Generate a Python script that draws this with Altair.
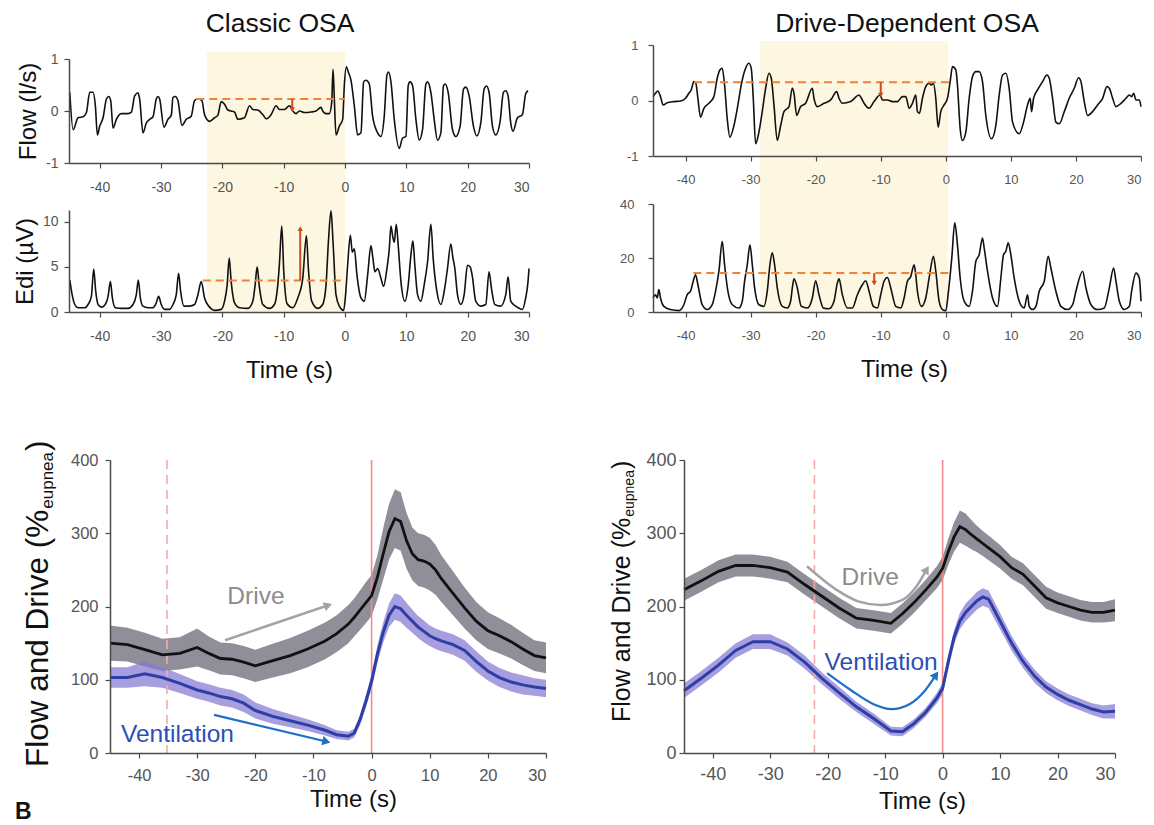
import math
import altair as alt
import pandas as pd

FONT = "Liberation Sans"
SHADE = "#fdf6e0"
ORANGE = "#f08238"
ARROW_RED = "#cc4a22"
PINK_SOLID = "#f28a8a"
PINK_DASH = "#f6a9a9"
DRIVE_BAND = "#8a8993"
VENT_BAND = "#8479d2"
VENT_LINE = "#2d3fa6"
DRIVE_TEXT = "#8c8c8c"
VENT_TEXT = "#2c4fb5"
DRIVE_ARROW = "#a3a3a3"
VENT_ARROW = "#1f6fc8"

XDOM = [-45, 30]
XTICKS = [-40, -30, -20, -10, 0, 10, 20, 30]

# ---------------- Classic OSA : raw traces ----------------
TL_FLOW_T = [-44.87, -44.33, -43.52, -42.70, -42.16, -41.62, -41.08, -40.70, -40.37, -39.99,
             -39.45, -38.90, -38.52, -38.20, -37.82, -37.28, -36.46, -35.38, -34.83, -34.29,
             -33.75, -33.48, -32.94, -32.39, -31.85, -31.31, -30.77, -30.49, -30.22, -29.52,
             -28.87, -28.32, -28.05, -27.67, -27.24, -26.59, -25.88, -25.07, -24.53, -23.98,
             -23.33, -22.90, -22.08, -21.27, -20.73, -20.18, -19.64, -19.10, -18.56, -18.01,
             -17.47, -16.39, -15.57, -15.03, -14.22, -13.40, -12.86, -12.05, -11.23, -10.69,
             -9.88, -9.06, -8.52, -7.98, -7.43, -6.62, -5.53, -4.72, -3.91, -3.64,
             -3.09, -2.55, -2.17, -1.95, -1.74, -1.47, -0.92, -0.38, -0.11, 0.22,
             0.54, 0.98, 1.52, 2.06, 2.60, 3.04, 3.42, 3.96, 4.50, 5.32,
             5.86, 6.40, 6.84, 7.11, 7.49, 8.03, 8.84, 9.39, 9.93, 10.31,
             10.58, 11.01, 11.56, 12.10, 12.64, 13.19, 13.46, 14.00, 14.54, 15.08,
             15.63, 16.06, 16.33, 16.82, 17.53, 18.07, 18.77, 19.32, 19.70, 20.24,
             20.94, 21.49, 22.14, 22.68, 23.06, 23.49, 24.04, 24.58, 25.29, 25.83,
             26.21, 26.59, 27.02, 27.40, 28.11, 28.92, 29.46, 29.84]
TL_FLOW_V = [0.36, -0.36, -0.13, -0.11, -0.03, 0.36, 0.36, 0.10, -0.46, -0.29,
             -0.13, 0.23, 0.28, 0.20, -0.33, -0.16, -0.05, -0.05, -0.02, 0.29,
             0.35, 0.23, -0.42, -0.23, -0.16, -0.11, 0.23, 0.28, 0.23, -0.31,
             -0.16, -0.08, 0.26, 0.28, 0.20, -0.28, -0.16, -0.10, 0.20, 0.23,
             0.20, -0.07, -0.20, -0.13, -0.08, 0.18, 0.13, 0.02, 0.0, -0.02,
             -0.16, -0.13, 0.10, 0.03, 0.02, -0.07, -0.15, -0.07, 0.10, 0.03,
             0.03, 0.10, 0.0, -0.05, 0.0, -0.03, -0.02, 0.0, 0.07, 0.0,
             -0.05, -0.05, 0.16, 0.80, 0.23, -0.46, -0.29, -0.16, 0.49, 0.85,
             0.75, 0.59, 0.10, -0.46, -0.42, 0.56, 0.59, 0.52, -0.10, -0.42,
             -0.49, -0.10, 0.69, 0.75, 0.56, -0.16, -0.72, -0.52, -0.49, 0.49,
             0.56, 0.49, -0.16, -0.56, -0.36, 0.52, 0.56, 0.36, -0.16, -0.56,
             -0.42, 0.49, 0.52, 0.36, -0.36, -0.49, -0.29, 0.42, 0.46, 0.29,
             -0.29, -0.48, -0.23, 0.42, 0.48, 0.36, -0.29, -0.46, -0.20, 0.36,
             0.39, 0.29, -0.23, -0.39, -0.13, -0.07, 0.33, 0.39]

TL_EDI_T = [-44.87, -44.49, -44.06, -43.52, -42.43, -41.89, -41.35, -40.97, -40.64, -40.26,
            -39.72, -39.18, -38.63, -38.25, -37.93, -37.44, -36.46, -35.38, -34.56, -34.02,
            -33.70, -33.37, -32.94, -32.12, -31.31, -30.77, -30.39, -29.96, -29.41, -28.60,
            -28.05, -27.51, -27.13, -26.80, -26.26, -25.34, -24.53, -23.98, -23.44, -22.90,
            -22.08, -21.27, -20.18, -19.64, -19.21, -18.88, -18.56, -18.01, -17.20, -15.84,
            -15.03, -14.65, -14.32, -14.00, -13.40, -12.32, -11.50, -10.96, -10.69, -10.31,
            -9.98, -9.44, -8.52, -7.70, -6.89, -6.29, -5.97, -5.43, -4.45, -3.64,
            -3.09, -2.71, -2.28, -1.95, -1.47, -0.92, -0.22, 0.05, 0.43, 0.87,
            1.19, 1.52, 1.95, 2.60, 3.15, 3.69, 4.23, 4.56, 4.88, 5.32,
            5.86, 6.29, 6.84, 7.22, 7.49, 7.76, 8.03, 8.36, 8.68, 9.12,
            9.77, 10.31, 10.74, 11.07, 11.39, 11.83, 12.37, 12.91, 13.46, 14.00,
            14.38, 14.98, 15.63, 16.17, 16.71, 17.25, 17.58, 17.91, 18.34, 18.88,
            19.43, 19.97, 20.40, 20.73, 21.32, 22.14, 22.95, 23.49, 23.87, 24.42,
            25.39, 26.21, 26.59, 27.02, 27.84, 28.92, 29.46, 29.84, 30.0]
TL_EDI_V = [3.55, 1.92, 0.83, 0.47, 0.47, 0.83, 1.74, 4.75, 2.28, 0.83,
            0.54, 0.76, 1.74, 3.37, 1.56, 0.47, 0.40, 0.40, 0.83, 1.92,
            3.55, 1.56, 0.65, 0.47, 0.47, 1.01, 1.74, 0.83, 0.29, 0.29,
            0.83, 1.92, 4.28, 2.28, 0.65, 0.65, 0.83, 1.92, 3.37, 1.56,
            0.54, 0.18, 0.29, 1.20, 3.01, 5.98, 3.37, 1.01, 0.47, 0.40,
            1.20, 3.01, 5.00, 3.01, 0.83, 0.40, 0.83, 3.01, 5.36, 9.53,
            4.46, 0.91, 0.47, 1.56, 3.73, 8.44, 4.82, 1.20, 0.40, 0.83,
            3.01, 7.72, 11.2, 7.72, 1.92, 0.65, 0.18, 1.56, 5.18, 8.51,
            6.63, 6.99, 4.09, 1.56, 1.20, 4.09, 7.36, 5.91, 4.46, 4.82,
            3.73, 2.83, 4.82, 6.99, 9.53, 8.44, 7.72, 9.71, 7.36, 3.37,
            1.20, 3.01, 6.27, 7.90, 5.18, 1.92, 1.20, 3.01, 5.54, 9.71,
            5.91, 2.28, 0.83, 2.28, 4.82, 7.54, 6.09, 4.82, 1.92, 0.83,
            1.92, 5.18, 5.00, 4.09, 1.20, 0.65, 0.83, 4.46, 2.64, 0.83,
            0.65, 1.92, 3.91, 1.20, 0.65, 0.29, 1.56, 3.37, 4.82]

# ---------------- Drive-Dependent OSA : raw traces ----------------
TR_FLOW_T = [-44.97, -44.62, -44.26, -43.85, -43.44, -42.82, -41.79, -40.77, -40.0, -39.49,
             -39.13, -38.72, -38.41, -38.10, -37.69, -37.18, -36.41, -35.64, -35.13, -34.72,
             -34.36, -34.0, -33.59, -33.18, -32.56, -31.95, -31.44, -30.77, -30.26, -29.90,
             -29.59, -29.23, -28.72, -28.21, -27.69, -27.18, -26.82, -26.41, -25.90, -25.38,
             -24.87, -24.10, -23.59, -23.33, -22.92, -22.31, -21.54, -20.51, -20.26, -19.74,
             -18.72, -17.69, -16.77, -16.41, -15.90, -14.62, -13.33, -12.97, -12.56, -11.79,
             -11.03, -10.10, -9.74, -8.97, -8.21, -7.44, -6.67, -6.15, -5.64, -5.13,
             -4.62, -4.36, -4.05, -3.59, -3.08, -2.56, -2.21, -1.90, -1.54, -1.18,
             -0.77, -0.26, 0.26, 0.67, 1.03, 1.54, 1.79, 2.21, 2.56, 3.08,
             3.59, 4.10, 4.62, 5.13, 5.64, 6.15, 7.03, 7.69, 8.21, 8.72,
             9.23, 9.74, 10.26, 11.28, 11.95, 12.56, 12.97, 13.18, 13.49, 14.10,
             14.87, 15.54, 15.90, 16.41, 16.92, 17.44, 18.21, 18.97, 19.74, 20.41,
             20.77, 21.28, 21.79, 22.56, 23.33, 24.10, 24.77, 25.13, 25.64, 26.15,
             26.92, 27.69, 28.21, 28.56, 28.87, 29.23, 29.74, 30.0]
TR_FLOW_V = [0.07, 0.13, 0.17, 0.07, -0.08, -0.04, -0.02, -0.01, 0.04, 0.13,
             0.19, 0.34, 0.31, 0.04, -0.30, -0.14, -0.05, 0.07, 0.40, 0.55,
             0.58, 0.28, -0.33, -0.66, -0.45, -0.08, 0.28, 0.58, 0.67, 0.58,
             0.04, -0.78, -0.57, -0.20, 0.22, 0.49, 0.40, -0.08, -0.72, -0.45,
             -0.20, -0.11, 0.22, 0.13, -0.27, -0.11, -0.05, 0.22, 0.04, -0.11,
             -0.05, 0.01, 0.16, 0.04, -0.05, -0.02, 0.10, 0.04, -0.05, -0.14,
             -0.02, 0.10, 0.01, 0.01, -0.02, -0.02, 0.07, 0.07, -0.14, -0.05,
             0.10, -0.20, -0.23, 0.04, 0.25, 0.31, 0.28, 0.31, 0.04, -0.48,
             -0.20, -0.08, 0.04, 0.34, 0.61, 0.55, 0.28, -0.51, -0.72, -0.57,
             0.04, 0.43, 0.52, 0.52, 0.34, -0.27, -0.69, -0.45, 0.10, 0.46,
             0.49, 0.22, -0.39, -0.60, -0.39, -0.08, 0.04, -0.20, 0.04, 0.19,
             0.34, 0.46, 0.40, 0.04, -0.39, -0.42, -0.20, 0.04, 0.22, 0.41,
             0.34, -0.02, -0.27, -0.20, -0.08, 0.04, 0.25, 0.22, 0.04, -0.11,
             -0.05, 0.04, 0.10, 0.07, 0.13, 0.01, 0.01, -0.11]

TR_EDI_T = [-44.97, -44.62, -44.36, -44.10, -43.85, -43.33, -42.31, -41.03, -40.26, -39.74,
            -39.23, -38.82, -38.46, -38.10, -37.44, -36.67, -35.90, -35.38, -34.87, -34.36,
            -34.0, -33.49, -32.82, -31.79, -31.28, -30.92, -30.51, -30.10, -29.74, -29.38,
            -28.72, -27.95, -27.44, -27.03, -26.67, -26.31, -25.90, -25.13, -24.36, -23.85,
            -23.59, -23.33, -22.82, -22.21, -21.28, -20.51, -20.0, -19.49, -18.82, -17.95,
            -17.18, -16.67, -16.41, -15.90, -15.13, -14.36, -13.59, -12.82, -12.31, -11.79,
            -11.13, -10.51, -10.0, -9.49, -8.97, -8.46, -7.69, -6.92, -6.41, -5.90,
            -5.38, -4.87, -4.62, -4.36, -3.74, -3.08, -2.56, -1.90, -1.54, -1.03,
            -0.51, 0.0, 0.41, 0.92, 1.38, 1.79, 2.21, 2.82, 3.59, 4.10,
            4.62, 5.13, 5.64, 5.90, 6.41, 7.18, 7.95, 8.46, 8.87, 9.23,
            9.59, 10.0, 10.51, 11.28, 12.05, 12.56, 12.82, 13.33, 13.85, 14.36,
            15.13, 15.74, 16.15, 16.92, 17.69, 18.72, 19.49, 20.0, 21.03, 21.54,
            22.31, 23.33, 24.36, 25.13, 25.79, 26.15, 26.67, 27.44, 28.21, 28.56,
            29.23, 29.74, 30.0]
TR_EDI_V = [5.2, 6.4, 5.2, 8.3, 5.2, 2.1, 0.9, 0.5, 2.7, 6.4,
            7.7, 11.4, 13.8, 10.1, 2.7, 0.9, 2.7, 7.7, 15.1, 26.2,
            17.5, 7.7, 2.7, 1.5, 4.0, 11.4, 17.5, 24.9, 17.5, 8.9,
            2.7, 2.1, 7.7, 17.5, 21.9, 17.5, 8.9, 2.1, 1.5, 4.0,
            8.9, 12.3, 8.9, 2.1, 1.5, 5.2, 11.6, 6.4, 1.5, 1.2,
            4.0, 10.7, 12.3, 6.4, 1.5, 1.5, 6.4, 10.1, 11.6, 7.7,
            2.1, 1.5, 6.4, 11.4, 12.8, 8.9, 2.1, 1.5, 5.2, 11.4,
            13.2, 17.5, 13.8, 7.7, 2.1, 5.2, 12.6, 20.6, 15.1, 4.0,
            0.9, 0.5, 7.7, 20.0, 33.0, 24.9, 12.6, 4.0, 2.1, 7.7,
            18.8, 21.2, 27.4, 23.7, 15.1, 5.2, 2.1, 12.6, 21.2, 22.5,
            25.6, 21.2, 12.6, 4.0, 1.5, 6.4, 2.1, 0.9, 2.1, 7.7,
            11.4, 20.6, 16.3, 7.7, 2.1, 0.9, 2.7, 7.7, 15.1, 8.9,
            2.7, 0.9, 1.5, 8.9, 16.3, 11.4, 4.0, 0.9, 2.1, 7.7,
            14.4, 12.6, 4.0]

# shaded window (start, end), dashed reference (t0, t1, level), arrow (t, from, to)
TL_SHADE = [-22.5, 0.0]
TR_SHADE = [-28.5, 0.3]
TL_FLOW_DASH = [-24.25, 0.0, 0.23]
TL_FLOW_ARROW = [-8.6, 0.23, 0.03]
TL_EDI_DASH = [-23.2, 0.0, 3.48]
TL_EDI_ARROW = [-7.3, 3.48, 9.24]
TR_FLOW_DASH = [-38.7, 0.5, 0.33]
TR_FLOW_ARROW = [-10.0, 0.33, 0.10]
TR_EDI_DASH = [-38.8, 0.5, 14.4]
TR_EDI_ARROW = [-11.0, 14.4, 10.7]

# ---------------- ensemble averages ----------------
BL_T = [-45, -42, -39, -36, -33, -30, -28, -26, -24, -22,
        -20, -17, -14, -11, -8, -6, -4, -3, -2, -1,
        0, 1, 2, 3, 4, 5, 6, 7, 8, 9,
        10, 11, 12, 14, 16, 18, 20, 22, 24, 26,
        28, 30]
BL_DRIVE = [150, 148, 141, 134, 136, 144, 136, 129, 128, 124,
            119, 126, 133, 142, 153, 163, 176, 185, 195, 205,
            215, 240, 272, 302, 320, 316, 290, 272, 264, 262,
            258, 250, 238, 218, 198, 180, 167, 160, 152, 142,
            133, 130]
BL_DRIVE_HW = [24, 23, 23, 22, 22, 26, 23, 22, 22, 22,
               22, 23, 24, 25, 25, 25, 26, 26, 27, 28,
               28, 30, 35, 38, 40, 40, 38, 36, 36, 36,
               36, 34, 32, 30, 28, 26, 25, 24, 23, 22,
               21, 21]
BL_VENT = [103, 103, 108, 103, 95, 86, 82, 77, 74, 68,
           58, 50, 44, 38, 31, 25, 23, 27, 45, 70,
           98, 135, 165, 188, 200, 197, 188, 180, 172, 166,
           160, 156, 153, 148, 140, 125, 112, 103, 97, 93,
           90, 88]
BL_VENT_HW = [14, 14, 17, 14, 13, 12, 12, 12, 12, 12,
              11, 10, 9, 8, 7, 6, 6, 6, 7, 8,
              10, 12, 14, 16, 18, 18, 17, 16, 15, 15,
              14, 14, 14, 14, 14, 14, 13, 13, 13, 13,
              12, 12]

BR_T = [-45, -42, -39, -36, -33, -30, -27, -24, -21, -18,
        -15, -12, -9, -7, -5, -3, -1, 0, 1, 2,
        3, 4, 5, 6, 7, 8, 10, 12, 14, 16,
        18, 20, 22, 24, 26, 28, 30]
BR_DRIVE = [223, 235, 248, 256, 256, 253, 247, 230, 214, 198,
            184, 181, 177, 190, 205, 222, 240, 252, 275, 295,
            309, 305, 298, 292, 286, 280, 268, 253, 244, 228,
            212, 205, 200, 195, 192, 192, 195]
BR_DRIVE_HW = [15, 15, 15, 15, 15, 15, 14, 14, 14, 14,
               14, 14, 14, 14, 14, 14, 15, 16, 18, 20,
               22, 22, 20, 18, 17, 17, 16, 15, 15, 15,
               15, 14, 14, 14, 14, 14, 15]
BR_VENT = [85, 102, 120, 140, 152, 152, 142, 124, 102, 82,
           63, 47, 30, 29, 40, 55, 75, 88, 125, 158,
           180, 192, 200, 208, 213, 210, 180, 150, 125, 105,
           90, 80, 72, 66, 60, 56, 57]
BR_VENT_HW = [10, 10, 10, 10, 10, 10, 9, 9, 8, 8,
              7, 7, 6, 6, 6, 6, 7, 8, 9, 10,
              11, 12, 12, 12, 12, 12, 11, 10, 9, 9,
              8, 8, 8, 8, 8, 9, 10]

BL_VLINES = [-35.2, 0.0]
BR_VLINES = [-22.3, 0.0]

BL_DRIVE_LABEL = [-19.9, 213]
BL_DRIVE_ARROW_T = [-25.2, -7.7]
BL_DRIVE_ARROW_V = [154, 201]
BL_VENT_LABEL = [-33.4, 25]
BL_VENT_ARROW_T = [-27.1, -8.0]
BL_VENT_ARROW_V = [52, 16]

BR_DRIVE_LABEL = [-12.6, 239]
BR_DRIVE_ARROW_T = [-23.6, -18.5, -14.7, -10.8, -7.0, -4.5, -2.9]
BR_DRIVE_ARROW_V = [255, 223, 207, 202, 209, 228, 249]
BR_VENT_LABEL = [-10.7, 123]
BR_VENT_ARROW_T = [-20.1, -16.0, -12.1, -8.9, -5.7, -3.2, -1.3]
BR_VENT_ARROW_V = [109, 86, 67, 60, 67, 84, 105]

HYPHEN = "datum.value < 0 ? '-' + (-datum.value) : '' + datum.value"

AX = dict(domainColor="#4a4a4a", domainWidth=1.5, tickColor="#4a4a4a", tickWidth=1.2,
          labelColor="#555555", labelFont=FONT, titleFont=FONT, titleColor="#111111",
          titleFontWeight="normal", grid=False, labelExpr=HYPHEN, zindex=1)


def xs():
    return alt.Scale(domain=XDOM, nice=False, zero=False)


def pixel_text(s, x, y, size, angle=0, align="center", baseline="middle", weight="normal",
               color="#111111"):
    kw = dict(font=FONT, fontSize=size, color=color, align=align, baseline=baseline,
              fontWeight=weight)
    if angle:
        kw["angle"] = angle
    return alt.Chart(pd.DataFrame({"s": [s]})).mark_text(**kw).encode(
        text="s:N", x=alt.value(x), y=alt.value(y))


def spacer(w, h, texts):
    box = alt.Chart(pd.DataFrame({"s": [0]})).mark_rule(strokeOpacity=0, strokeWidth=0.5).encode(
        x=alt.value(0), x2=alt.value(w), y=alt.value(0), y2=alt.value(h))
    return alt.layer(box, *texts).properties(width=w, height=h)


def trace_panel(t, v, W, H, ydom, yticks, shade, rect_top, rect_bot, dash, arrow,
                xtitle=None, ytitle=None, ylabpad=6, ytitlepad=4, labsize=14,
                xtitlex=None, xtitlepad=10):
    ys = alt.Scale(domain=ydom, nice=False, zero=False)
    xkw = dict(AX, values=XTICKS, labelFontSize=labsize, tickSize=5, labelPadding=12,
               title=xtitle, titleFontSize=24, titlePadding=xtitlepad)
    if xtitlex is not None:
        xkw["titleX"] = xtitlex
    ykw = dict(AX, values=yticks, labelFontSize=labsize, tickSize=5, labelPadding=ylabpad,
               title=ytitle, titleFontSize=24, titlePadding=ytitlepad)
    xax = alt.Axis(**xkw)
    yax = alt.Axis(**ykw)

    rect = alt.Chart(pd.DataFrame({"a": [shade[0]], "b": [shade[1]]})).mark_rect(
        color=SHADE).encode(
        x=alt.X("a:Q", scale=xs(), axis=xax), x2="b:Q",
        y=alt.value(rect_top), y2=alt.value(rect_bot))
    line = alt.Chart(pd.DataFrame({"t": t, "v": v})).mark_line(
        color="#111111", strokeWidth=1.6, strokeJoin="round", interpolate="monotone").encode(
        x=alt.X("t:Q", scale=xs(), axis=xax),
        y=alt.Y("v:Q", scale=ys, axis=yax))
    dline = alt.Chart(pd.DataFrame({"a": [dash[0]], "b": [dash[1]], "v": [dash[2]]})).mark_rule(
        color=ORANGE, strokeWidth=2, strokeDash=[8, 5]).encode(
        x=alt.X("a:Q", scale=xs(), axis=xax), x2="b:Q",
        y=alt.Y("v:Q", scale=ys, axis=yax))
    adf = pd.DataFrame({"t": [arrow[0]], "v0": [arrow[1]], "v1": [arrow[2]]})
    arule = alt.Chart(adf).mark_rule(color=ARROW_RED, strokeWidth=2).encode(
        x=alt.X("t:Q", scale=xs(), axis=xax),
        y=alt.Y("v0:Q", scale=ys, axis=yax), y2="v1:Q")
    head = alt.Chart(adf).mark_point(
        shape="triangle-down" if arrow[2] < arrow[1] else "triangle-up",
        filled=True, color=ARROW_RED, size=28, opacity=1).encode(
        x=alt.X("t:Q", scale=xs(), axis=xax),
        y=alt.Y("v1:Q", scale=ys, axis=yax))
    return alt.layer(rect, line, dline, arule, head).properties(width=W, height=H)


def arrow_layers(ts, vs, color, width, ys, xax, yax, W, H, ydom, curve=False, size=90):
    df = pd.DataFrame({"t": ts, "v": vs, "o": list(range(len(ts)))})
    line = alt.Chart(df).mark_line(color=color, strokeWidth=width,
                                   interpolate="monotone" if curve else "linear").encode(
        x=alt.X("t:Q", scale=xs(), axis=xax),
        y=alt.Y("v:Q", scale=ys, axis=yax), order="o:Q")
    dx = (ts[-1] - ts[-2]) * W / (XDOM[1] - XDOM[0])
    dy = -(vs[-1] - vs[-2]) * H / (ydom[1] - ydom[0])
    ang = math.degrees(math.atan2(dx, -dy)) % 360
    head = alt.Chart(pd.DataFrame({"t": [ts[-1]], "v": [vs[-1]]})).mark_point(
        shape="triangle", filled=True, color=color, size=size, angle=ang, opacity=1).encode(
        x=alt.X("t:Q", scale=xs(), axis=xax),
        y=alt.Y("v:Q", scale=ys, axis=yax))
    return [line, head]


def text_at(t, v, s, color, size, ys, xax, yax):
    return alt.Chart(pd.DataFrame({"t": [t], "v": [v], "s": [s]})).mark_text(
        font=FONT, fontSize=size, color=color).encode(
        x=alt.X("t:Q", scale=xs(), axis=xax),
        y=alt.Y("v:Q", scale=ys, axis=yax), text="s:N")


def ytitle_layers(xc, ybot, fmain, fsub, dxsub):
    wmain = 8.168 * fmain
    wsub = 3.336 * fsub
    return [
        pixel_text("Flow and Drive (%", xc, ybot, fmain, angle=270, align="left"),
        pixel_text("eupnea", xc + dxsub, ybot - wmain - 1, fsub, angle=270, align="left"),
        pixel_text(")", xc, ybot - wmain - wsub - 2, fmain, angle=270, align="left"),
    ]


def ensemble_panel(T, dm, dhw, vm, vhw, W, H, vlines, dlabel, darrow, vlabel, varrow,
                   curve, labsize, ylabpad, xlabpad, xtitlex, xtitlepad, extra=None):
    ydom = [0, 400]
    ys = alt.Scale(domain=ydom, nice=False, zero=False)
    xax = alt.Axis(**dict(AX, values=XTICKS, labelFontSize=labsize, tickSize=5,
                          labelPadding=xlabpad, title="Time (s)", titleFontSize=24,
                          titlePadding=xtitlepad, titleX=xtitlex))
    yax = alt.Axis(**dict(AX, values=[0, 100, 200, 300, 400], labelFontSize=labsize,
                          tickSize=5, labelPadding=ylabpad, title=None))
    df = pd.DataFrame({
        "t": T, "dm": dm, "vm": vm,
        "dlo": [m - h for m, h in zip(dm, dhw)], "dhi": [m + h for m, h in zip(dm, dhw)],
        "vlo": [m - h for m, h in zip(vm, vhw)], "vhi": [m + h for m, h in zip(vm, vhw)],
    })
    band_d = alt.Chart(df).mark_area(color=DRIVE_BAND, opacity=0.95).encode(
        x=alt.X("t:Q", scale=xs(), axis=xax),
        y=alt.Y("dlo:Q", scale=ys, axis=yax), y2="dhi:Q")
    band_v = alt.Chart(df).mark_area(color=VENT_BAND, opacity=0.72).encode(
        x=alt.X("t:Q", scale=xs(), axis=xax),
        y=alt.Y("vlo:Q", scale=ys, axis=yax), y2="vhi:Q")
    vdash = alt.Chart(pd.DataFrame({"t": [vlines[0]]})).mark_rule(
        color=PINK_DASH, strokeWidth=1.6, strokeDash=[9, 6]).encode(
        x=alt.X("t:Q", scale=xs(), axis=xax), y=alt.value(0), y2=alt.value(H))
    vsolid = alt.Chart(pd.DataFrame({"t": [vlines[1]]})).mark_rule(
        color=PINK_SOLID, strokeWidth=1.6).encode(
        x=alt.X("t:Q", scale=xs(), axis=xax), y=alt.value(0), y2=alt.value(H))
    line_d = alt.Chart(df).mark_line(color="#111111", strokeWidth=2.8).encode(
        x=alt.X("t:Q", scale=xs(), axis=xax), y=alt.Y("dm:Q", scale=ys, axis=yax))
    line_v = alt.Chart(df).mark_line(color=VENT_LINE, strokeWidth=3).encode(
        x=alt.X("t:Q", scale=xs(), axis=xax), y=alt.Y("vm:Q", scale=ys, axis=yax))
    layers = [band_d, band_v, vdash, vsolid, line_d, line_v]
    layers.append(text_at(dlabel[0], dlabel[1], "Drive", DRIVE_TEXT, 24.5, ys, xax, yax))
    layers.append(text_at(vlabel[0], vlabel[1], "Ventilation", VENT_TEXT, 24.5, ys, xax, yax))
    layers += arrow_layers(darrow[0], darrow[1], DRIVE_ARROW, 2.5, ys, xax, yax, W, H, ydom, curve)
    layers += arrow_layers(varrow[0], varrow[1], VENT_ARROW, 2.2, ys, xax, yax, W, H, ydom, curve)
    if extra is not None:
        layers += extra
    return alt.layer(*layers).properties(width=W, height=H)


# ---------------- build panels ----------------
flowL = trace_panel(TL_FLOW_T, TL_FLOW_V, 460, 104, [-1, 1], [-1, 0, 1], TL_SHADE, -7, 140,
                    TL_FLOW_DASH, TL_FLOW_ARROW, ytitle="Flow (l/s)", ylabpad=6, ytitlepad=5)
ediL = trace_panel(TL_EDI_T, TL_EDI_V, 460, 102, [0, 11.3], [0, 5, 10], TL_SHADE, -11, 102,
                   TL_EDI_DASH, TL_EDI_ARROW, xtitle="Time (s)", ytitle="Edi (µV)",
                   ylabpad=6, ytitlepad=5, xtitlex=220, xtitlepad=15)
flowR = trace_panel(TR_FLOW_T, TR_FLOW_V, 488, 111, [-1, 1], [-1, 0, 1], TR_SHADE, -4, 147,
                    TR_FLOW_DASH, TR_FLOW_ARROW, ylabpad=10, labsize=13)
ediR = trace_panel(TR_EDI_T, TR_EDI_V, 488, 108, [0, 40], [0, 20, 40], TR_SHADE, -12, 108,
                   TR_EDI_DASH, TR_EDI_ARROW, xtitle="Time (s)", ylabpad=14, labsize=13,
                   xtitlex=251, xtitlepad=15)

titleL = spacer(460, 14, [pixel_text("Classic OSA", 211, -6, 26.5, baseline="alphabetic")])
titleR = spacer(488, 1, [pixel_text("Drive-Dependent OSA", 254, -6, 26.5, baseline="alphabetic")])

botL = ensemble_panel(BL_T, BL_DRIVE, BL_DRIVE_HW, BL_VENT, BL_VENT_HW, 436, 293, BL_VLINES,
                      BL_DRIVE_LABEL, (BL_DRIVE_ARROW_T, BL_DRIVE_ARROW_V),
                      BL_VENT_LABEL, (BL_VENT_ARROW_T, BL_VENT_ARROW_V),
                      False, 16.5, 7, 9, 243, 4)
botR = ensemble_panel(BR_T, BR_DRIVE, BR_DRIVE_HW, BR_VENT, BR_VENT_HW, 431, 293, BR_VLINES,
                      BR_DRIVE_LABEL, (BR_DRIVE_ARROW_T, BR_DRIVE_ARROW_V),
                      BR_VENT_LABEL, (BR_VENT_ARROW_T, BR_VENT_ARROW_V),
                      True, 18, 3, 7, 238, 6,
                      extra=ytitle_layers(-62, 262, 25, 14, 8))

# left margin holder for the bottom-left y title and the panel letter
leftB = spacer(1, 293, ytitle_layers(-30, 307, 31.5, 17, 9) +
               [pixel_text("B", -54, 341, 23, align="left", baseline="top", weight="bold")])

left_col = alt.vconcat(titleL, flowL, ediL, spacing=0)
right_col = alt.vconcat(titleR, flowR, ediR, spacing=0)
top_row = alt.hconcat(left_col, right_col, spacing=89)
bot_pair = alt.hconcat(botL, botR, spacing=57)
bot_row = alt.hconcat(leftB, bot_pair, spacing=0)

chart = alt.vconcat(top_row, bot_row, spacing=58).properties(
    padding={"left": 5, "top": 3, "right": 0, "bottom": 0}, background="white"
).configure(font=FONT).configure_view(stroke=None)

chart.save("out.html", embed_options={"renderer": "svg", "actions": False})
